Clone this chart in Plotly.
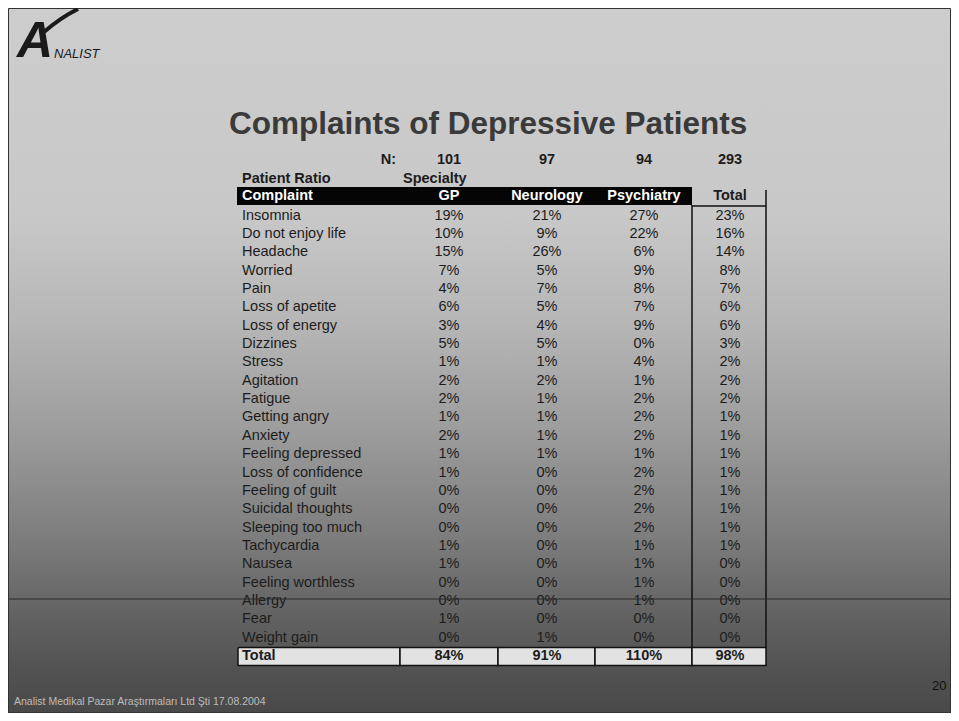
import plotly.graph_objects as go

# --- data ---
complaints = ["Insomnia", "Do not enjoy life", "Headache", "Worried", "Pain",
              "Loss of apetite", "Loss of energy", "Dizzines", "Stress", "Agitation",
              "Fatigue", "Getting angry", "Anxiety", "Feeling depressed",
              "Loss of confidence", "Feeling of guilt", "Suicidal thoughts",
              "Sleeping too much", "Tachycardia", "Nausea", "Feeling worthless",
              "Allergy", "Fear", "Weight gain"]
gp = [19, 10, 15, 7, 4, 6, 3, 5, 1, 2, 2, 1, 2, 1, 1, 0, 0, 0, 1, 1, 0, 0, 1, 0]
neurology = [21, 9, 26, 5, 7, 5, 4, 5, 1, 2, 1, 1, 1, 1, 0, 0, 0, 0, 0, 0, 0, 0, 0, 1]
psychiatry = [27, 22, 6, 9, 8, 7, 9, 0, 4, 1, 2, 2, 2, 1, 2, 2, 2, 2, 1, 1, 1, 1, 0, 0]
total = [23, 16, 14, 8, 7, 6, 6, 3, 2, 2, 2, 1, 1, 1, 1, 1, 1, 1, 1, 0, 0, 0, 0, 0]
specialties = ["GP", "Neurology", "Psychiatry"]
n_patients = [101, 97, 94, 293]
column_totals = [84, 91, 110, 98]

# --- layout of the slide (axis units = page pixels) ---
W, H = 959, 721
OFF = 8  # the page body margin pushes the figure 8px right/down
FIG_W, FIG_H = W - 2 * OFF, H - 2 * OFF  # keep the page from scrolling
COL_X = [449, 547, 644, 730]
LABEL_X = 242
ROW0, PITCH = 216, 18.35
N_Y, RATIO_Y, HEAD_Y = 160, 179, 196
BAR = (237, 692, 187, 205)
BOX_X = [238, 400, 498, 595, 692, 766]
FONT = "Liberation Sans, Arial, sans-serif"
TXT = "#1c1c1c"
FS = 14.5

row_y = [ROW0 + i * PITCH for i in range(len(complaints))]
total_y = ROW0 + len(complaints) * PITCH
box_top, box_bot = total_y - 9, total_y + 9

fig = go.Figure()

# slide background gradient
fig.add_trace(go.Scatter(
    x=[0, W, W, 0, 0], y=[0, 0, H, H, 0], mode="lines", fill="toself",
    line=dict(width=0),
    fillgradient=dict(type="vertical", start=0, stop=H, colorscale=[
        [0.0, "#cdcdcd"], [0.3, "#c8c8c8"], [0.45, "#b6b6b6"], [0.6, "#9c9c9c"],
        [0.75, "#7c7c7c"], [0.85, "#636363"], [0.93, "#525252"], [1.0, "#474747"]]),
    hoverinfo="skip"))

# black header bar
x0, x1, y0, y1 = BAR
fig.add_trace(go.Scatter(x=[x0, x1, x1, x0, x0], y=[y0, y0, y1, y1, y0],
                         mode="lines", fill="toself", fillcolor="#050505",
                         line=dict(width=0), hoverinfo="skip"))

# total row boxes
for a, b in zip(BOX_X[:-1], BOX_X[1:]):
    fig.add_trace(go.Scatter(x=[a, b, b, a, a], y=[box_top, box_top, box_bot, box_bot, box_top],
                             mode="lines", fill="toself", fillcolor="#e2e2e2",
                             line=dict(color="#111", width=1.5), hoverinfo="skip"))

def text_trace(xs, ys, texts, pos, color=TXT, size=FS, bold=False):
    fig.add_trace(go.Scatter(
        x=xs, y=ys, text=texts, mode="text", textposition=pos,
        textfont=dict(family=FONT, size=size, color=color,
                      weight="bold" if bold else "normal"),
        hoverinfo="skip"))

# complaint labels and percentages
text_trace([LABEL_X] * len(complaints), row_y, complaints, "middle right")
for cx, vals in zip(COL_X, [gp, neurology, psychiatry, total]):
    text_trace([cx] * len(vals), row_y, [f"{v}%" for v in vals], "middle center")

# header rows
text_trace([396], [N_Y], ["N:"], "middle left", bold=True)
text_trace(COL_X, [N_Y] * 4, [str(n) for n in n_patients], "middle center", bold=True)
text_trace([LABEL_X, 403], [RATIO_Y, RATIO_Y], ["Patient Ratio", "Specialty"],
           "middle right", bold=True)
text_trace([LABEL_X], [HEAD_Y], ["Complaint"], "middle right", color="white", bold=True)
text_trace(COL_X[:3], [HEAD_Y] * 3, specialties, "middle center", color="white", bold=True)
text_trace([COL_X[3]], [HEAD_Y], ["Total"], "middle center", bold=True)

# total row
text_trace([LABEL_X], [total_y], ["Total"], "middle right", bold=True)
text_trace(COL_X, [total_y] * 4, [f"{v}%" for v in column_totals], "middle center", bold=True)

line = dict(color="#111", width=1.5)
fig.update_layout(
    width=FIG_W, height=FIG_H, margin=dict(l=0, r=0, t=0, b=0),
    paper_bgcolor="#c8c8c8", plot_bgcolor="#c8c8c8", showlegend=False,
    xaxis=dict(range=[OFF, OFF + FIG_W], visible=False, fixedrange=True),
    yaxis=dict(range=[OFF + FIG_H, OFF], visible=False, fixedrange=True),
    shapes=[
        dict(type="line", x0=BAR[1], x1=BOX_X[-1], y0=BAR[3] + 1, y1=BAR[3] + 1, line=line),
        dict(type="line", x0=BOX_X[4], x1=BOX_X[4], y0=BAR[3], y1=box_top, line=line),
        dict(type="line", x0=BOX_X[5], x1=BOX_X[5], y0=190, y1=box_top, line=line),
        dict(type="line", x0=0, x1=W, y0=599, y1=599, line=dict(color="#2a2a2a", width=1)),
        dict(type="rect", x0=OFF + 0.5, x1=OFF + FIG_W - 0.5, y0=OFF + 0.5, y1=OFF + FIG_H - 0.5,
             line=dict(color="#333", width=1)),
        dict(type="path", path="M 44 32 Q 60 18 78 9", line=dict(color="#1a1a1a", width=4)),
    ],
    annotations=[
        dict(x=488, y=123, text="<b>Complaints of Depressive Patients</b>", showarrow=False,
             font=dict(family=FONT, size=31.5, color="#3a3a3a"), xanchor="center", yanchor="middle"),
        dict(x=13, y=40, text="<b><i>A</i></b>", showarrow=False, xanchor="left", yanchor="middle",
             font=dict(family=FONT, size=50, color="#1a1a1a")),
        dict(x=52, y=53, text="<i>NALIST</i>", showarrow=False, xanchor="left", yanchor="middle",
             font=dict(family=FONT, size=13, color="#1a1a1a")),
        dict(x=12, y=701, text="Analist Medikal Pazar Araştırmaları Ltd Şti 17.08.2004",
             showarrow=False, xanchor="left", yanchor="middle",
             font=dict(family=FONT, size=10.5, color="#bdbdbd")),
        dict(x=948, y=685, text="20", showarrow=False, xanchor="right", yanchor="middle",
             font=dict(family=FONT, size=13, color="#111")),
    ],
)

fig.write_html("out.html")
